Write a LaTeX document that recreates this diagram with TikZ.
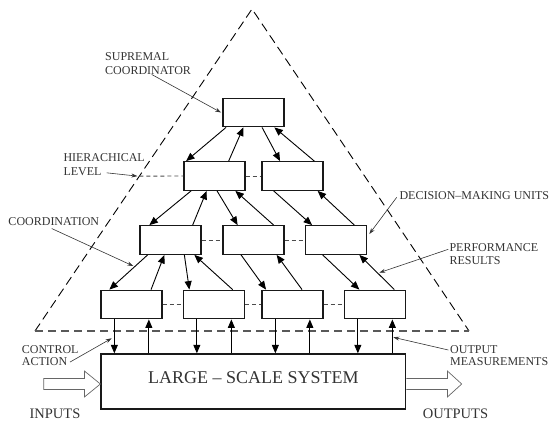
\documentclass[tikz,border=0pt]{standalone}
\usepackage{fontspec}
\setmainfont{Liberation Serif}
\usetikzlibrary{arrows.meta, calc}

\begin{document}
\begin{tikzpicture}[x=1pt, y=-1pt,
    every node/.style={inner sep=0pt, text=black!80, font=\fontsize{12}{14}\selectfont},
    unit/.style={draw=black!90, line width=1.3pt, minimum width=61pt, minimum height=28.5pt},
    link/.style={line width=0.9pt, -{Triangle[length=8.5pt, width=7pt]}},
    pointer/.style={line width=0.6pt, black!80, -{Stealth[length=6pt, width=4pt]}},
    level/.style={line width=0.9pt, black!70, dash pattern=on 4pt off 3pt},
    hollow/.style={line width=0.7pt, black!60}]

    \useasboundingbox (0,0) rectangle (551,421);

    % === Dashed triangle ===
    \coordinate (apex) at (252,9);
    \coordinate (baseL) at (35,331);
    \coordinate (baseR) at (469,331);
    \draw[line width=0.9pt, dash pattern=on 9pt off 5pt] (baseL) -- (apex) -- (baseR);
    \draw[line width=1.2pt, black!65, dash pattern=on 8pt off 5pt] (baseL) -- (baseR);
    \coordinate (hierEdge) at ($(apex)!0.519!(baseL)$);

    % === Decision-making units ===
    \node[unit] (sup) at (253.5,112.5) {};
    \node[unit] (hA) at (214.5,176) {};
    \node[unit] (hB) at (292.5,176) {};
    \node[unit] (mA) at (170.5,240) {};
    \node[unit] (mB) at (253.5,240) {};
    \node[unit] (mC) at (336,240) {};
    \node[unit] (lA) at (131.5,304.5) {};
    \node[unit] (lB) at (214,304.5) {};
    \node[unit] (lC) at (292.5,304.5) {};
    \node[unit] (lD) at (375,304.5) {};

    % === Large-scale system ===
    \node[unit, minimum width=304.7pt, minimum height=55pt, text depth=7.6pt,
        font=\fontsize{18}{20}\selectfont] (sys) at (253.4,381.5) {LARGE – SCALE SYSTEM};

    % === Hierarchical level lines ===
    \draw[level] (hierEdge) -- (hA.west);
    \foreach \a/\b in {hA/hB, mA/mB, mB/mC, lA/lB, lB/lC, lC/lD}
        \draw[level] (\a.east) -- (\b.west);

    % === Coordination (down) and performance (up) links ===
    \foreach \a/\da/\b/\db in {sup/3.7/hA/2.7, sup/39.7/hB/18.7, hA/7.7/mA/10,
        hA/33.7/mB/15.3, hB/12.3/mC/7.2, mA/8.3/lA/9, mA/45/lB/6.5,
        mB/18.7/lC/4.7, mC/17.8/lD/15.5}
        \draw[link] ([xshift=\da pt]\a.south west) -- ([xshift=\db pt]\b.north west);
    \foreach \a/\da/\b/\db in {hA/45.3/sup/21, hB/53/sup/52, mA/53.3/hA/23.3,
        mB/51.3/hA/52, mC/49.5/hB/56.3, lA/50.7/mA/25, lB/49.8/mA/55,
        lC/40.7/mB/54.3, lD/50.5/mC/54.5}
        \draw[link] ([xshift=\da pt]\a.north west) -- ([xshift=\db pt]\b.south west);

    % === Control actions and output measurements ===
    \foreach \u in {lA, lB, lC, lD} {
        \draw[link] ([xshift=14pt]\u.south west) -- ([xshift=14pt]\u.south west |- sys.north);
        \draw[link] ([xshift=48.5pt]\u.south west |- sys.north) -- ([xshift=48.5pt]\u.south west);
    }

    % === Inputs and outputs ===
    \draw[hollow] (sys.west) ++(0,2.5) -- ++(-16,-13) -- ++(0,7.5) -- ++(-40.7,0)
        -- ++(0,11) -- ++(40.7,0) -- ++(0,7.5) -- cycle;
    \draw[hollow] (sys.east) ++(0,-3) -- ++(41,0) -- ++(0,-7.5) -- ++(14.3,13)
        -- ++(-14.3,13) -- ++(0,-7.5) -- ++(-41,0);
    \node[font=\fontsize{14.5}{16}\selectfont] (inLabel) at (55,413.3) {INPUTS};
    \node[font=\fontsize{14.5}{16}\selectfont] (outpLabel) at (455.5,413.3) {OUTPUTS};

    % === Labels with pointers ===
    \node[anchor=north west, align=left] (supLabel) at (105,52) {SUPREMAL\\COORDINATOR};
    \draw[pointer] ([xshift=46.7pt]supLabel.south west) -- ([xshift=-1.3pt]sup.west);

    \node[anchor=north west, align=left, font=\fontsize{12}{14.4}\selectfont] (hierLabel)
        at (63.3,153.3) {HIERACHICAL\\LEVEL};
    \draw[pointer] ([xshift=43.4pt, yshift=3.4pt]hierLabel.south west) -- ([xshift=-2pt]hierEdge);

    \node[anchor=west] (coordLabel) at (8.3,221.7) {COORDINATION};
    \coordinate (coordTip) at (133.3,266);
    \draw[pointer] ([xshift=43.4pt, yshift=-2.6pt]coordLabel.south west) -- (coordTip);

    \node[anchor=west] (decLabel) at (399.3,196) {DECISION–MAKING UNITS};
    \coordinate (decTip) at (369.3,234);
    \draw[pointer] ([xshift=-2.6pt, yshift=-1.3pt]decLabel.west) -- (decTip);

    \node[anchor=north west, align=left, font=\fontsize{12}{12.3}\selectfont] (perfLabel)
        at (449.3,243.7) {PERFORMANCE\\RESULTS};
    \coordinate (perfTip) at (379.3,272.7);
    \draw[pointer] ([xshift=-1pt, yshift=-5.6pt]perfLabel.north west) -- (perfTip);

    \node[anchor=north west, align=left, font=\fontsize{12}{12.3}\selectfont] (ctrlLabel)
        at (21.7,345.3) {CONTROL\\ACTION};
    \coordinate (ctrlTip) at (111.7,338.3);
    \draw[pointer] ([xshift=48.3pt, yshift=4pt]ctrlLabel.south west) -- (ctrlTip);

    \node[anchor=north west, align=left, font=\fontsize{12}{12.3}\selectfont] (outLabel)
        at (450,345.3) {OUTPUT\\MEASUREMENTS};
    \coordinate (outTip) at (393.3,337.3);
    \draw[pointer] ([xshift=-1.7pt, yshift=-4.7pt]outLabel.north west) -- (outTip);

\end{tikzpicture}
\end{document}
